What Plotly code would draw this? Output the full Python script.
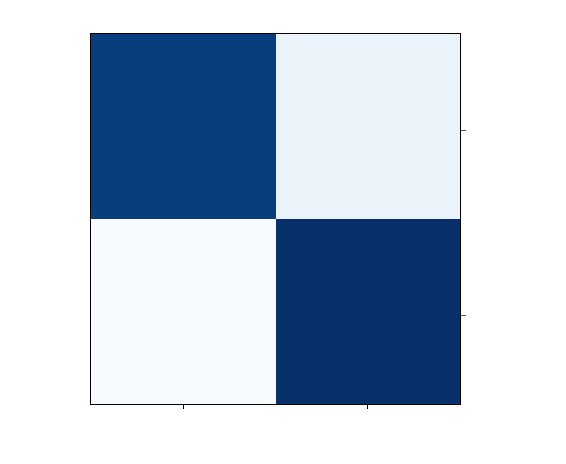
import plotly.graph_objects as go

x_labels = ["0", "1"]
y_values = [0, 1]
y_tick_positions = [0.022, 1.022]
counts_row0 = [42, 4.6]
counts_row1 = [2, 44]

blues = ["#f7fbff", "#deebf7", "#c6dbef", "#9ecae1", "#6baed6",
         "#4292c6", "#2171b5", "#08519c", "#08306b"]
colorscale = [[i / (len(blues) - 1), c] for i, c in enumerate(blues)]

fig = go.Figure(go.Heatmap(
    z=[counts_row0, counts_row1],
    x=x_labels,
    y=y_values,
    colorscale=colorscale,
    showscale=False,
    hoverinfo="skip",
))

fig.update_layout(
    width=566, height=464,
    margin=dict(l=83, r=114, t=26, b=68),
    plot_bgcolor="white", paper_bgcolor="white",
    showlegend=False,
)
fig.update_xaxes(showticklabels=False, ticks="outside", ticklen=4, tickcolor="black",
                 showline=True, linecolor="black", linewidth=1, mirror=True,
                 showgrid=False, zeroline=False)
fig.update_yaxes(side="right", range=[1.5, -0.5], showticklabels=False, ticks="outside",
                 tickmode="array", tickvals=y_tick_positions,
                 ticklen=5, tickcolor="#555555",
                 showline=True, linecolor="black", linewidth=1, mirror=True,
                 showgrid=False, zeroline=False)

fig.write_html("out.html")
